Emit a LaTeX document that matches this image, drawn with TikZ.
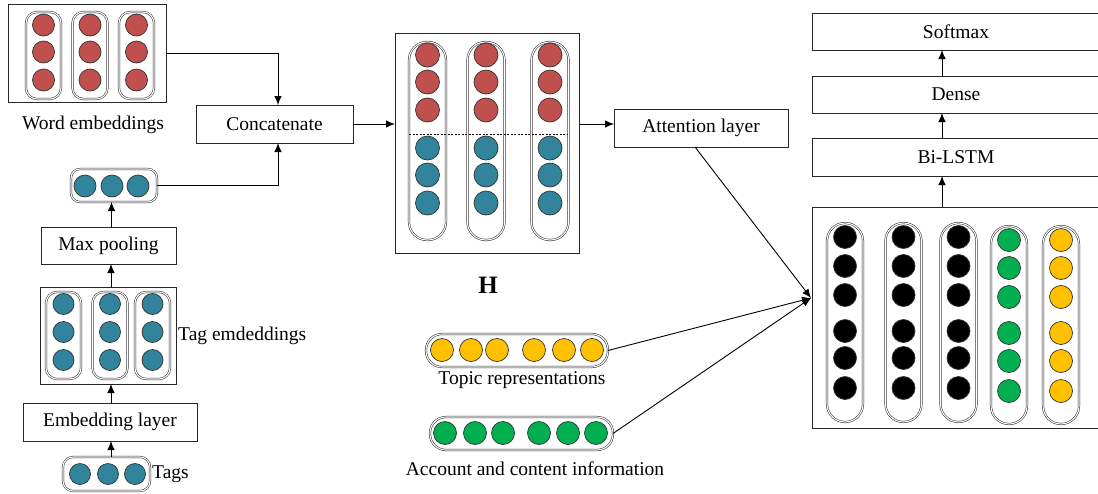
\documentclass[tikz,border=0pt]{standalone}
\usepackage{fontspec}
\setmainfont{Liberation Serif}
\usetikzlibrary{arrows.meta}
\definecolor{cred}{HTML}{C0504D}
\definecolor{cteal}{HTML}{31849B}
\definecolor{cgreen}{HTML}{00B050}
\definecolor{cyellow}{HTML}{FFC000}
\begin{document}
\begin{tikzpicture}[x=1pt,y=-1pt,
 box/.style={draw=black!85,line width=0.9pt,inner sep=0,outer sep=0,font=\fontsize{19.5}{22}\selectfont},
 caps/.style={draw=black!85,line width=0.5pt,double=white,double distance=1.1pt,inner sep=0,outer sep=0},
 dot/.style={circle,draw=black!80,line width=0.7pt,inner sep=0,minimum size=22},
 arr/.style={-{Latex[length=9pt,width=7.5pt]},line width=0.9pt},
 lbl/.style={font=\fontsize{19.5}{22}\selectfont,inner sep=0}]
\useasboundingbox (0,0) rectangle (1098,493);
\clip (0,0) rectangle (1098,493);
\fill[white] (0,0) rectangle (1098,493);

% Word embeddings
\node[box,minimum width=158,minimum height=98] (wordbox) at (87,53) {};
\foreach \i/\x in {1/43.5,2/90,3/136.5}
  \node[caps,rounded corners=11,minimum width=35,minimum height=87] (wc\i) at (\x,55.5) {};
\foreach \i/\x in {1/43.5,2/90,3/136.5}
  \foreach \j/\y in {1/25,2/52,3/80}
    \node[dot,fill=cred] (w\i\j) at (\x,\y) {};
\node[lbl] (wordlbl) at (93,125) {Word embeddings};

% Concatenate
\node[box,minimum width=157,minimum height=38] (concat) at (274.5,124) {Concatenate};

% pooled vector
\node[caps,rounded corners=9,minimum width=86,minimum height=33] (pool) at (114,185.5) {};
\foreach \i/\x in {1/85,2/112,3/138}
  \node[dot,fill=cteal] (p\i) at (\x,186) {};

\node[box,minimum width=135,minimum height=37] (maxpool) at (108.5,245.5) {Max pooling};

% Tag embeddings
\node[box,minimum width=136,minimum height=97] (tagbox) at (108,335.5) {};
\foreach \i/\x in {1/63.5,2/110,3/152.5}
  \node[caps,rounded corners=11,minimum width=35,minimum height=87] (tc\i) at (\x,335.5) {};
\foreach \i/\x in {1/63.5,2/110,3/152.5}
  \foreach \j/\y in {1/304,2/332,3/360}
    \node[dot,fill=cteal,minimum size=21] (t\i\j) at (\x,\y) {};
\node[lbl,anchor=west] (taglbl) at (178,336) {Tag emdeddings};

\node[box,minimum width=174,minimum height=38] (emb) at (110,422) {Embedding layer};

\node[caps,rounded corners=10,minimum width=87,minimum height=34] (tags) at (106.5,474) {};
\foreach \i/\x in {1/80,2/108,3/135}
  \node[dot,fill=cteal,minimum size=21] (g\i) at (\x,474) {};
\node[lbl,anchor=west] (tagslbl) at (152,474) {Tags};

% H
\node[box,minimum width=184,minimum height=220] (H) at (487,143) {};
\foreach \i/\x in {1/427.5,2/486,3/550}
  \node[caps,rounded corners=18,minimum width=37,minimum height=198] (hc\i) at (\x,141) {};
\draw[line width=0.6pt,dash pattern=on 2pt off 1.5pt] (409,134) -- (568,134);
\foreach \i/\x in {1/427.5,2/486,3/550}{
  \foreach \j/\y in {1/55,2/82,3/110}
    \node[dot,fill=cred,minimum size=24] (hr\i\j) at (\x,\y) {};
  \foreach \j/\y in {1/148,2/175,3/203}
    \node[dot,fill=cteal,minimum size=24] (ht\i\j) at (\x,\y) {};
}
\node[font=\fontsize{25}{28}\selectfont\bfseries,inner sep=0] (Hlbl) at (488,285) {H};

% Attention
\node[box,minimum width=174,minimum height=38] (att) at (701,128) {Attention layer};

% Right stack
\node[box,minimum width=288,minimum height=37] (softmax) at (956,31.5) {Softmax};
\node[box,minimum width=288,minimum height=37] (dense) at (956,94.5) {Dense};
\node[box,minimum width=288,minimum height=38] (bilstm) at (956,157) {Bi-LSTM};
\node[box,minimum width=288,minimum height=221] (big) at (956,317.5) {};
\foreach \i/\x in {1/845,2/903.5,3/958.5}{
  \node[caps,rounded corners=18,minimum width=36,minimum height=199] (bc\i) at (\x,322.5) {};
  \foreach \j/\y in {1/237,2/266,3/295,4/331,5/358,6/388}
    \node[dot,fill=black,minimum size=23] (b\i\j) at (\x,\y) {};
}
\node[caps,rounded corners=18,minimum width=36,minimum height=198] (gc) at (1009,325) {};
\node[caps,rounded corners=18,minimum width=36,minimum height=198] (yc) at (1061,325) {};
\foreach \j/\y in {1/240,2/268,3/297,4/333,5/361,6/391}{
  \node[dot,fill=cgreen,minimum size=23] (gg\j) at (1009,\y) {};
  \node[dot,fill=cyellow,minimum size=23] (yy\j) at (1061,\y) {};
}

% Topic and account
\node[caps,rounded corners=16,minimum width=182,minimum height=33] (topic) at (517,350.5) {};
\foreach \i/\x in {1/442,2/471,3/497,4/534,5/564,6/592}
  \node[dot,fill=cyellow,minimum size=23] (tp\i) at (\x,350) {};
\node[lbl] (topiclbl) at (522,380) {Topic representations};

\node[caps,rounded corners=16,minimum width=183,minimum height=33] (account) at (521.5,433.5) {};
\foreach \i/\x in {1/445,2/475,3/503,4/539,5/568,6/596}
  \node[dot,fill=cgreen,minimum size=23] (ac\i) at (\x,433) {};
\node[lbl] (acclbl) at (535,469) {Account and content information};

% Connectors
\draw[arr] (wordbox.east) -| ([xshift=3.5pt]concat.north);
\draw[arr] (pool.east) -| ([xshift=3.5pt]concat.south);
\draw[arr] ([xshift=3pt]maxpool.north) -- ([xshift=3pt]maxpool.north |- pool.south);
\draw[arr] ([xshift=3pt]tagbox.north) -- ([xshift=3pt]tagbox.north |- maxpool.south);
\draw[arr] ([xshift=1pt]emb.north) -- ([xshift=1pt]emb.north |- tagbox.south);
\draw[arr] ([xshift=4.5pt]tags.north) -- ([xshift=4.5pt]tags.north |- emb.south);
\draw[arr] (concat.east) -- (concat.east -| H.west);
\draw[arr] (H.east |- concat.east) -- (att.west |- concat.east);
\coordinate (conv) at (811,298);
\draw[arr] ([xshift=-6pt]att.south) -- (conv);
\draw[arr] (topic.east) -- (conv);
\draw[arr] (account.east) -- (conv);
\draw[arr] ([xshift=-14pt]big.north) -- ([xshift=-14pt]bilstm.south);
\draw[arr] ([xshift=-14pt]bilstm.north) -- ([xshift=-14pt]dense.south);
\draw[arr] ([xshift=-14pt]dense.north) -- ([xshift=-14pt]softmax.south);
\end{tikzpicture}
\end{document}
